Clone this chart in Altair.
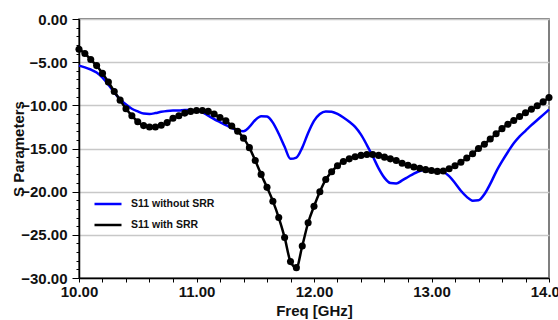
import altair as alt
import pandas as pd

freq = [10.00, 10.05, 10.10, 10.15, 10.20, 10.25, 10.30, 10.35, 10.40, 10.45,
        10.50, 10.55, 10.60, 10.65, 10.70, 10.75, 10.80, 10.85, 10.90, 10.95,
        11.00, 11.05, 11.10, 11.15, 11.20, 11.25, 11.30, 11.35, 11.40, 11.45,
        11.50, 11.55, 11.60, 11.65, 11.70, 11.75, 11.80, 11.85, 11.90, 11.95,
        12.00, 12.05, 12.10, 12.15, 12.20, 12.25, 12.30, 12.35, 12.40, 12.45,
        12.50, 12.55, 12.60, 12.65, 12.70, 12.75, 12.80, 12.85, 12.90, 12.95,
        13.00, 13.05, 13.10, 13.15, 13.20, 13.25, 13.30, 13.35, 13.40, 13.45,
        13.50, 13.55, 13.60, 13.65, 13.70, 13.75, 13.80, 13.85, 13.90, 13.95,
        14.00]

s11_without = [-5.4, -5.6, -5.85, -6.2, -6.8, -7.6, -8.5, -9.3, -9.9, -10.4,
               -10.7, -10.95, -11.0, -10.9, -10.75, -10.65, -10.6, -10.6, -10.55, -10.55,
               -10.6, -10.8, -11.2, -11.6, -11.95, -12.3, -12.6, -12.95, -13.0, -12.5,
               -11.7, -11.25, -11.3, -12.0, -13.3, -14.8, -16.2, -16.05, -14.9, -13.2,
               -11.8, -11.0, -10.7, -10.75, -11.0, -11.4, -11.9, -12.5, -13.4, -14.6,
               -15.9, -17.3, -18.4, -19.0, -19.05, -18.7, -18.3, -17.9, -17.6, -17.5,
               -17.5, -17.55, -17.7, -18.2, -19.0, -19.9, -20.6, -21.05, -21.0, -20.3,
               -19.1, -17.7, -16.5, -15.4, -14.4, -13.6, -12.95, -12.3, -11.7, -11.1,
               -10.5]

s11_with = [-3.5, -4.0, -4.7, -5.4, -6.3, -7.3, -8.4, -9.4, -10.4, -11.2,
            -11.9, -12.35, -12.5, -12.5, -12.3, -12.0, -11.5, -11.2, -10.9, -10.7,
            -10.6, -10.6, -10.7, -11.0, -11.4, -11.8, -12.4, -13.0, -13.8, -14.9,
            -16.4, -18.0, -19.5, -21.1, -23.0, -25.3, -28.1, -28.8, -26.3, -23.6,
            -21.7, -20.0, -18.6, -17.7, -17.0, -16.5, -16.2, -15.95, -15.8, -15.7,
            -15.7, -15.8, -16.0, -16.2, -16.4, -16.7, -16.95, -17.15, -17.3, -17.45,
            -17.55, -17.65, -17.6, -17.35, -17.0, -16.6, -16.1, -15.6, -15.0, -14.5,
            -13.9, -13.3, -12.7, -12.2, -11.75, -11.3, -10.85, -10.45, -10.05, -9.6,
            -9.1]

series_names = ["S11 without SRR", "S11 with SRR"]
series_colors = ["#0000ff", "#000000"]

x_ticks = [10.0, 10.2, 10.4, 10.6, 10.8, 11.0, 11.2, 11.4, 11.6, 11.8,
           12.0, 12.2, 12.4, 12.6, 12.8, 13.0, 13.2, 13.4, 13.6, 13.8, 14.0]
y_ticks = list(range(-30, 1))

df = pd.concat([
    pd.DataFrame({"freq": freq, "s": s11_without, "series": series_names[0]}),
    pd.DataFrame({"freq": freq, "s": s11_with, "series": series_names[1]}),
])

FONT = "Liberation Sans"

xenc = alt.X("freq:Q", scale=alt.Scale(domain=[10, 14], nice=False, zero=False),
             axis=alt.Axis(values=x_ticks, title="Freq [GHz]",
                           labelExpr="abs(datum.value - round(datum.value)) < 0.001 ? format(datum.value, '.2f') : ''",
                           labelFlush=False, labelOverlap=False, grid=False,
                           tickSize=4, labelPadding=2, titlePadding=4,
                           domainColor="#000", domainWidth=1.5, tickColor="#000",
                           labelFont=FONT, labelFontSize=15, labelFontWeight="bold", labelColor="#111",
                           titleFont=FONT, titleFontSize=15, titleFontWeight="bold", titleColor="#111"))
yenc = alt.Y("s:Q", scale=alt.Scale(domain=[-30, 0], nice=False, zero=False),
             axis=alt.Axis(values=y_ticks, title="S Parameters",
                           labelExpr="abs(datum.value % 5) < 0.001 ? format(datum.value, '.2f') : ''",
                           labelOverlap=False, grid=True, gridColor="#c8c8c8", gridWidth=1.5,
                           gridOpacity={"condition": {"test": "abs(datum.value % 5) < 0.001", "value": 1}, "value": 0},
                           tickSize={"condition": {"test": "abs(datum.value % 5) < 0.001", "value": 7}, "value": 3},
                           labelPadding=5, titlePadding=-6,
                           domainColor="#000", domainWidth=1.5, tickColor="#000",
                           labelFont=FONT, labelFontSize=15, labelFontWeight="bold", labelColor="#111",
                           titleFont=FONT, titleFontSize=15, titleFontWeight="bold", titleColor="#111"))

color = alt.Color("series:N", scale=alt.Scale(domain=series_names, range=series_colors),
                  legend=alt.Legend(orient="none", legendX=14, legendY=170, title=None,
                                    symbolType="stroke", symbolStrokeWidth=2.5, symbolSize=729,
                                    labelFont=FONT, labelFontSize=10.5,
                                    labelFontWeight="bold", labelColor="#111", labelOffset=8,
                                    rowPadding=0))

base = alt.Chart(df)

blue = base.transform_filter(alt.datum.series == series_names[0]).mark_line(
    strokeWidth=2.5, interpolate="monotone").encode(x=xenc, y=yenc, color=color)
black = base.transform_filter(alt.datum.series == series_names[1]).mark_line(
    strokeWidth=2.5, interpolate="monotone").encode(x=xenc, y=yenc, color=color)
dots = base.transform_filter(alt.datum.series == series_names[1]).mark_circle(
    size=50, opacity=1, color="#000").encode(x=xenc, y=yenc)

chart = alt.layer(blue, black, dots).properties(
    width=470, height=259,
    autosize=alt.AutoSizeParams(type="none"),
    padding={"left": 79, "top": 19, "right": 9, "bottom": 42},
    background="white",
).configure_view(stroke="#555", strokeWidth=1.5)

chart.save("out.html", embed_options={"renderer": "svg", "actions": False})
